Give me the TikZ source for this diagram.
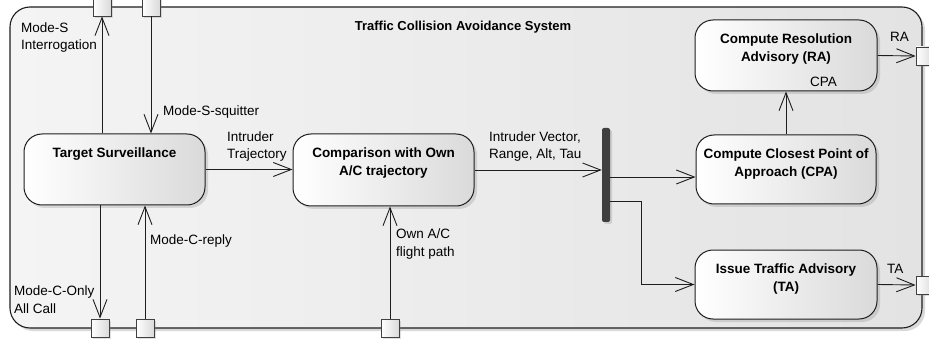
\documentclass[tikz,border=0pt]{standalone}
\usepackage{fontspec}
\setmainfont{Liberation Sans}
\usetikzlibrary{arrows.meta,shadows}
\definecolor{linec}{HTML}{1E1E1E}
\definecolor{barc}{HTML}{3F3F3F}
\definecolor{frameL}{HTML}{F4F4F4}
\definecolor{frameR}{HTML}{E3E3E3}
\definecolor{boxR}{HTML}{DADADA}
\begin{document}
\begin{tikzpicture}[x=1pt,y=-1pt,
  sysframe/.style={draw=linec, line width=1.1pt, rounded corners=20pt, left color=frameL, right color=frameR,
    drop shadow={shadow xshift=3pt,shadow yshift=-3pt,opacity=0.3}, inner sep=0pt,
    minimum width=912pt, minimum height=321pt},
  actbox/.style={draw=linec, line width=1pt, rounded corners=18pt, left color=white, right color=boxR,
    drop shadow={shadow xshift=3pt,shadow yshift=-3pt,opacity=0.25}, inner sep=0pt},
  boxtext/.style={font=\fontsize{13.5}{18}\selectfont\bfseries, align=center, inner sep=0pt, anchor=north},
  titletext/.style={font=\fontsize{13}{18}\selectfont\bfseries, inner sep=0pt, anchor=north},
  pinbox/.style={draw=linec!85, line width=0.8pt, left color=white, right color=boxR,
    minimum size=18pt, inner sep=0pt, drop shadow={shadow xshift=2pt,shadow yshift=-2pt,opacity=0.25}},
  lab/.style={font=\fontsize{13.5}{17.5}\selectfont, align=left, inner sep=0pt, anchor=north west},
  flow/.style={draw=linec, line width=0.9pt, -{Straight Barb[length=18pt,width=14pt]}},
  forkbar/.style={fill=barc, rounded corners=2pt, minimum width=8pt, minimum height=94pt, inner sep=0pt,
    drop shadow={shadow xshift=2pt,shadow yshift=-2pt,opacity=0.25}}
]
\useasboundingbox (0,0) rectangle (929,339);
% system frame
\node[sysframe] (sys) at (466,167.5) {};
\node[titletext] (title) at (463,21) {Traffic Collision Avoidance System};

% pins
\node[pinbox] (p1) at (102,7) {};
\node[pinbox] (p2) at (151,7) {};
\node[pinbox] (p3) at (100,328) {};
\node[pinbox] (p4) at (145,328) {};
\node[pinbox] (p5) at (390,328) {};
\node[pinbox] (p6) at (925,56) {};
\node[pinbox] (p7) at (925,285) {};

% actions
\node[actbox, minimum width=181pt, minimum height=71pt] (ts) at (114.5,169.5) {};
\node[boxtext] (tst) at ([yshift=-14pt]ts.north) {Target Surveillance};
\node[actbox, minimum width=181pt, minimum height=72pt] (cmp) at (383.5,170) {};
\node[boxtext] (cmpt) at ([yshift=-14pt]cmp.north) {Comparison with Own\\A/C trajectory};
\node[actbox, minimum width=180pt, minimum height=69pt] (cpa) at (786,169.5) {};
\node[boxtext] (cpat) at ([yshift=-14pt]cpa.north) {Compute Closest Point of\\Approach (CPA)};
\node[actbox, minimum width=182pt, minimum height=71pt] (ra) at (786,55.5) {};
\node[boxtext] (rat) at ([yshift=-14pt]ra.north) {Compute Resolution\\Advisory (RA)};
\node[actbox, minimum width=182pt, minimum height=69pt] (ta) at (786,284.5) {};
\node[boxtext] (tat) at ([yshift=-14pt]ta.north) {Issue Traffic Advisory\\(TA)};

% fork bar
\node[forkbar] (bar) at (606,175) {};

% connectors
\draw[flow] (ts.north -| p1) -- (p1.south);
\draw[flow] (p2.south) -- (p2.south |- ts.north);
\draw[flow] (ts.south -| p3) -- (p3.north);
\draw[flow] (p4.north) -- (p4.north |- ts.south);
\draw[flow] (ts.east) -- (ts.east -| cmp.west);
\draw[flow] (p5.north) -- (p5.north |- cmp.south);
\draw[flow] (cmp.east) -- (cmp.east -| bar.west);
\draw[flow] ([yshift=-2pt]bar.east) -- ([yshift=-2pt]bar.east -| cpa.west);
\draw[flow] ([yshift=-26pt]bar.east) -- ++(31,0) |- (ta.west);
\draw[flow] (cpa.north) -- (ra.south);
\draw[flow] (ra.east) -- (p6.west);
\draw[flow] (ta.east) -- (p7.west);

% labels
\node[lab] (l1) at (21,22.5) {Mode-S\\Interrogation};
\node[lab] (l2) at (163,106) {Mode-S-squitter};
\node[lab] (l3) at (227,131.5) {Intruder\\Trajectory};
\node[lab] (l4) at (489,131.5) {Intruder Vector,\\Range, Alt, Tau};
\node[lab] (l5) at (150,235) {Mode-C-reply};
\node[lab] (l6) at (14,286) {Mode-C-Only\\All Call};
\node[lab] (l7) at (396,229) {Own A/C\\flight path};
\node[lab] (l8) at (810,77) {CPA};
\node[lab] (l9) at (890,32.5) {RA};
\node[lab] (l10) at (887,264) {TA};
\end{tikzpicture}
\end{document}
